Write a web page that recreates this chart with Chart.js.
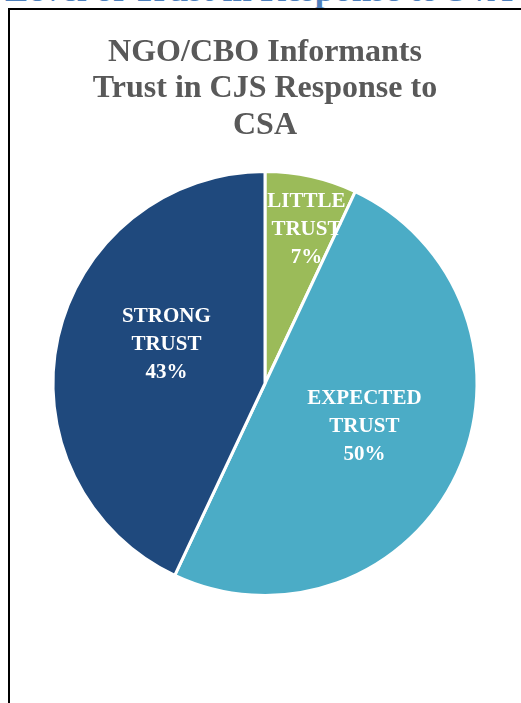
<!DOCTYPE html>
<html>
<head>
<meta charset="utf-8">
<script src="https://cdn.jsdelivr.net/npm/chart.js@4"></script>
<style>
  html, body { margin: 0; padding: 0; background: #fff; overflow: hidden; }
  body { width: 521px; height: 703px; position: relative; }
  .heading {
    position: absolute; left: 5px; top: -28px;
    font: bold 35px "Liberation Serif", "DejaVu Serif", serif;
    line-height: 35px; color: #4F81BD; white-space: nowrap;
  }
  .frame {
    position: absolute; left: 8px; top: 8px; right: -10px; bottom: -10px;
    border-left: 2px solid #000; border-top: 2px solid #000;
  }
  .chart-box { position: absolute; left: 10px; top: 10px; width: 510px; height: 693px; }
</style>
</head>
<body>
<div class="heading">Level of Trust in Response to SVA</div>
<div class="frame"></div>
<div class="chart-box"><canvas id="trustChart"></canvas></div>
<script>
// Trust in CJS response, share of NGO/CBO informants
const categories = ["LITTLE TRUST", "EXPECTED TRUST", "STRONG TRUST"];
const shares = [7, 50, 43];
const sliceColors = ["#9BBB59", "#4BACC6", "#1F497D"];

// label placement: fraction of radius and a small angle nudge (degrees)
const labelRadius = [0.75, 0.51, 0.5];
const labelNudge = [2.5, -2, 9];

const sliceLabels = {
    id: "sliceLabels",
    afterDatasetsDraw(chart) {
        const { ctx } = chart;
        const arcs = chart.getDatasetMeta(0).data;
        ctx.save();
        ctx.fillStyle = "#ffffff";
        ctx.font = 'bold 21px "Liberation Serif", "DejaVu Serif", serif';
        ctx.textAlign = "center";
        ctx.textBaseline = "middle";
        arcs.forEach((arc, i) => {
            const p = arc.getProps(["x", "y", "startAngle", "endAngle", "outerRadius"], true);
            const mid = (p.startAngle + p.endAngle) / 2 + labelNudge[i] * Math.PI / 180;
            const r = p.outerRadius * labelRadius[i];
            const cx = p.x + Math.cos(mid) * r;
            const cy = p.y + Math.sin(mid) * r;
            const lines = categories[i].split(" ").concat(shares[i] + "%");
            const lh = 28;
            lines.forEach((t, k) => {
                ctx.fillText(t, cx, cy + (k - (lines.length - 1) / 2) * lh);
            });
        });
        ctx.restore();
    }
};

new Chart(document.getElementById("trustChart"), {
    type: "pie",
    data: {
        labels: categories,
        datasets: [{
            data: shares,
            backgroundColor: sliceColors,
            borderColor: "#ffffff",
            borderWidth: 3
        }]
    },
    options: {
        responsive: true,
        maintainAspectRatio: false,
        animation: false,
        layout: { padding: { bottom: 106 } },
        plugins: {
            legend: { display: false },
            tooltip: { enabled: false },
            title: {
                display: true,
                text: ["NGO/CBO Informants", "Trust in CJS Response to", "CSA"],
                color: "#595959",
                font: { family: '"Liberation Serif", "DejaVu Serif", serif', size: 32, weight: "bold", lineHeight: 1.15 },
                padding: { top: 24, bottom: 25.6 }
            }
        }
    },
    plugins: [sliceLabels]
});
</script>
</body>
</html>
